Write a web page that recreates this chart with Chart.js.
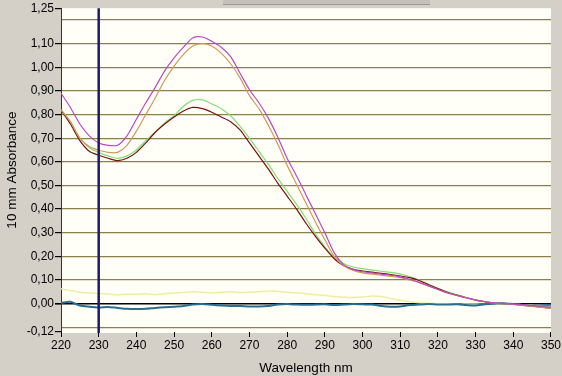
<!DOCTYPE html>
<html>
<head>
<meta charset="utf-8">
<script src="https://cdn.jsdelivr.net/npm/chart.js@4/dist/chart.umd.min.js"></script>
<style>
  html, body { margin:0; padding:0; background:#d4d0c8; }
  #wrap { width:562px; height:376px; position:relative; }
</style>
</head>
<body>
<div id="wrap"><canvas id="c" width="562" height="376"></canvas></div>
<script>
// ---- DATA ----
const wavelengths = [220,222.5,225,227.5,230,232.5,235,237.5,240,242.5,245,247.5,250,252.5,255,257.5,260,262.5,265,267.5,270,272.5,275,277.5,280,282.5,285,287.5,290,292.5,295,297.5,300,302.5,305,307.5,310,312.5,315,317.5,320,322.5,325,327.5,330,332.5,335,337.5,340,342.5,345,347.5,350];

const magentaSeries = [0.89,0.83,0.76,0.71,0.68,0.67,0.67,0.71,0.78,0.85,0.915,0.985,1.04,1.085,1.125,1.128,1.11,1.085,1.045,0.975,0.905,0.85,0.785,0.705,0.615,0.54,0.46,0.38,0.30,0.215,0.165,0.145,0.135,0.13,0.125,0.12,0.113,0.103,0.09,0.075,0.06,0.045,0.035,0.025,0.015,0.008,0.003,0.0,-0.002,-0.005,-0.008,-0.012,-0.015];

const orangeSeries = [0.82,0.77,0.70,0.665,0.65,0.64,0.64,0.67,0.73,0.80,0.87,0.945,1.005,1.055,1.09,1.10,1.09,1.06,1.015,0.955,0.88,0.825,0.755,0.675,0.585,0.505,0.425,0.345,0.27,0.20,0.16,0.14,0.13,0.125,0.12,0.115,0.11,0.10,0.09,0.075,0.06,0.046,0.035,0.025,0.015,0.008,0.002,0.0,-0.003,-0.007,-0.012,-0.016,-0.02];

const greenSeries = [0.82,0.77,0.70,0.66,0.64,0.625,0.615,0.625,0.65,0.69,0.725,0.765,0.795,0.835,0.86,0.862,0.845,0.825,0.795,0.75,0.70,0.645,0.59,0.53,0.475,0.42,0.36,0.295,0.24,0.195,0.17,0.155,0.148,0.142,0.137,0.132,0.125,0.115,0.10,0.083,0.065,0.05,0.037,0.026,0.016,0.008,0.002,0.0,-0.002,-0.004,-0.008,-0.01,-0.012];

const darkRedSeries = [0.82,0.76,0.69,0.645,0.628,0.615,0.605,0.615,0.64,0.68,0.725,0.76,0.79,0.815,0.83,0.825,0.81,0.79,0.77,0.735,0.68,0.625,0.57,0.51,0.455,0.40,0.34,0.285,0.235,0.19,0.16,0.145,0.138,0.133,0.128,0.123,0.117,0.11,0.098,0.08,0.064,0.048,0.036,0.025,0.015,0.008,0.002,0.0,-0.001,-0.005,-0.01,-0.015,-0.02];

const yellowSeries = [0.063,0.055,0.048,0.045,0.043,0.04,0.038,0.04,0.04,0.042,0.038,0.042,0.045,0.047,0.05,0.048,0.045,0.048,0.05,0.047,0.048,0.05,0.053,0.052,0.048,0.045,0.042,0.038,0.035,0.03,0.027,0.026,0.028,0.032,0.03,0.022,0.014,0.008,0.004,0.002,0.0,0.0,-0.002,-0.002,-0.002,-0.003,-0.003,-0.003,-0.003,-0.005,-0.008,-0.014,-0.02];

const blueSeries = [0.003,0.008,-0.008,-0.013,-0.016,-0.014,-0.018,-0.022,-0.023,-0.022,-0.018,-0.015,-0.013,-0.01,-0.004,-0.002,-0.005,-0.008,-0.01,-0.01,-0.012,-0.012,-0.01,-0.004,-0.002,-0.004,-0.005,-0.004,-0.003,-0.006,-0.004,-0.002,-0.003,-0.004,-0.01,-0.013,-0.012,-0.006,-0.004,-0.002,-0.004,-0.004,-0.003,-0.006,-0.008,-0.003,0.0,0.002,-0.002,-0.006,-0.01,-0.008,-0.005];

const yTickValues = [-0.12,-0.1,0,0.1,0.2,0.3,0.4,0.5,0.6,0.7,0.8,0.9,1.0,1.1,1.2,1.25];
const yLabelledTicks = [-0.12,0,0.1,0.2,0.3,0.4,0.5,0.6,0.7,0.8,0.9,1.0,1.1,1.25];
const xTickValues = [220,230,240,250,260,270,280,290,300,310,320,330,340,350];
const cursorWavelength = [230];

// ---- helpers ----
function pts(arr){ return wavelengths.map((w,i)=>({x:w,y:arr[i]})); }
const near = (a,b)=>Math.abs(a-b)<1e-6;
const isLabelled = v => yLabelledTicks.some(t=>near(t,v));

const bgPlugin = {
  id:'bg',
  beforeDraw(chart){
    const {ctx, chartArea:a, width, height} = chart;
    ctx.save();
    ctx.fillStyle = '#d4d0c8';
    ctx.fillRect(0,0,width,height);
    ctx.fillStyle = '#c4c1ba';
    ctx.fillRect(223,0,207,5);
    ctx.fillStyle = '#9a9892';
    ctx.fillRect(223,4,207,1);
    ctx.fillStyle = '#fffff7';
    ctx.fillRect(a.left, a.top, a.right-a.left, a.bottom-a.top+1);
    ctx.restore();
  }
};

const cursorPlugin = {
  id:'cursor',
  afterDatasetsDraw(chart){
    const {ctx, chartArea:a, scales} = chart;
    ctx.save();
    cursorWavelength.forEach(w=>{
      const x = scales.x.getPixelForValue(w);
      ctx.strokeStyle = '#1e1a6a';
      ctx.lineWidth = 2.5;
      ctx.beginPath();
      ctx.moveTo(x, a.top);
      ctx.lineTo(x, a.bottom+1);
      ctx.stroke();
    });
    ctx.restore();
  }
};

const font = {family:'"Liberation Sans", Arial, sans-serif', size:12};
const titleFont = {family:'"Liberation Sans", Arial, sans-serif', size:13.5};

function ds(label, arr, color, w){
  return {label, data:pts(arr), borderColor:color, backgroundColor:color, borderWidth:w||1,
    pointRadius:0, tension:0.25, fill:false};
}

new Chart(document.getElementById('c'), {
  type:'line',
  data:{
    datasets:[
      ds('Magenta', magentaSeries, '#b84ac4', 1.2),
      ds('Orange', orangeSeries, '#cf9a5a', 1.2),
      ds('Dark red', darkRedSeries, '#7a1010', 1.2),
      ds('Green', greenSeries, '#86dc74', 1.2),
      ds('Blue', blueSeries, '#2a6d90', 2),
      ds('Yellow', yellowSeries, '#eeeea0', 1.5)
    ]
  },
  options:{
    responsive:false,
    animation:false,
    devicePixelRatio:1,
    layout:{padding:{top:7, right:11, left:0, bottom:0}},
    plugins:{legend:{display:false}, tooltip:{enabled:false}},
    scales:{
      x:{
        type:'linear', min:220, max:350,
        afterBuildTicks(s){ s.ticks = xTickValues.map(v=>({value:v})); },
        afterFit(s){ s.height = 44; },
        border:{display:false},
        grid:{display:true, drawOnChartArea:false, drawTicks:true, tickLength:5, tickColor:'#000'},
        ticks:{color:'#000', font, padding:1, maxRotation:0, callback:v=>String(v)},
        title:{display:true, text:'Wavelength nm', color:'#000', font:titleFont, padding:{top:2,bottom:0}}
      },
      y:{
        type:'linear', min:-0.12, max:1.25,
        afterBuildTicks(s){ s.ticks = yTickValues.map(v=>({value:v})); },
        afterFit(s){ s.width = 61; },
        border:{display:true, color:'#333', width:1},
        grid:{
          drawTicks:true, tickLength:6,
          color:ctx=>{
            const v = ctx.tick ? ctx.tick.value : null;
            if (v===null) return 'rgba(0,0,0,0)';
            if (near(v,0)) return '#000000';
            if (near(v,1.25) || near(v,-0.12)) return 'rgba(0,0,0,0)';
            return '#8a8048';
          },
          lineWidth:ctx=> (ctx.tick && near(ctx.tick.value,0)) ? 1.6 : 1.2,
          tickColor:ctx=> (ctx.tick && isLabelled(ctx.tick.value)) ? '#000' : 'rgba(0,0,0,0)'
        },
        ticks:{color:'#000', font, padding:1,
          callback:v=> isLabelled(v) ? v.toFixed(2).replace('.',',') : ''},
        title:{display:true, text:'10 mm Absorbance', color:'#000', font:titleFont, padding:{top:4,bottom:0}}
      }
    }
  },
  plugins:[bgPlugin, cursorPlugin]
});
</script>
</body>
</html>
